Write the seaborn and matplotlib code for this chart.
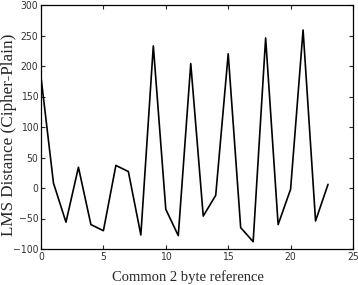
import numpy as np
import pandas as pd
import seaborn as sns
import matplotlib.pyplot as plt

# Values
reference = list(range(24))
lms_distance = [182, 8, -56, 34, -60, -70, 37, 27, -77, 233, -35, -78,
                204, -46, -12, 220, -65, -88, 246, -60, -2, 259, -54, 6]

df = pd.DataFrame({"ref": reference, "dist": lms_distance})

sns.set_style("ticks")
plt.rcParams["font.family"] = ["DejaVu Sans"]

fig = plt.figure(figsize=(3.58, 2.85), dpi=100)
ax = fig.add_axes([41 / 358, 1 - 249 / 285, 312 / 358, 244 / 285])

sns.lineplot(data=df, x="ref", y="dist", color="black", linewidth=1.2, ax=ax)

ax.set_xlim(0, 25)
ax.set_ylim(-100, 300)
ax.set_xticks([0, 5, 10, 15, 20, 25])
ax.set_yticks(np.arange(-100, 301, 50))
ax.tick_params(direction="in", top=True, right=True, length=3, width=0.8,
               labelsize=7.5, pad=2, labelcolor="#333333")
for lab in ax.get_xticklabels() + ax.get_yticklabels():
    lab.set_fontstretch("condensed")
for s in ax.spines.values():
    s.set_linewidth(0.9)
    s.set_color("black")

ax.set_xlabel("Common 2 byte reference", fontfamily="Liberation Serif",
              fontsize=10.5)
ax.set_ylabel("LMS Distance (Cipher-Plain)", fontfamily="Liberation Serif",
              fontsize=12.3)
ax.xaxis.set_label_coords(0.47, -0.085)
ax.yaxis.set_label_coords(-0.077, 0.467)

fig.savefig("out.png", dpi=100)
